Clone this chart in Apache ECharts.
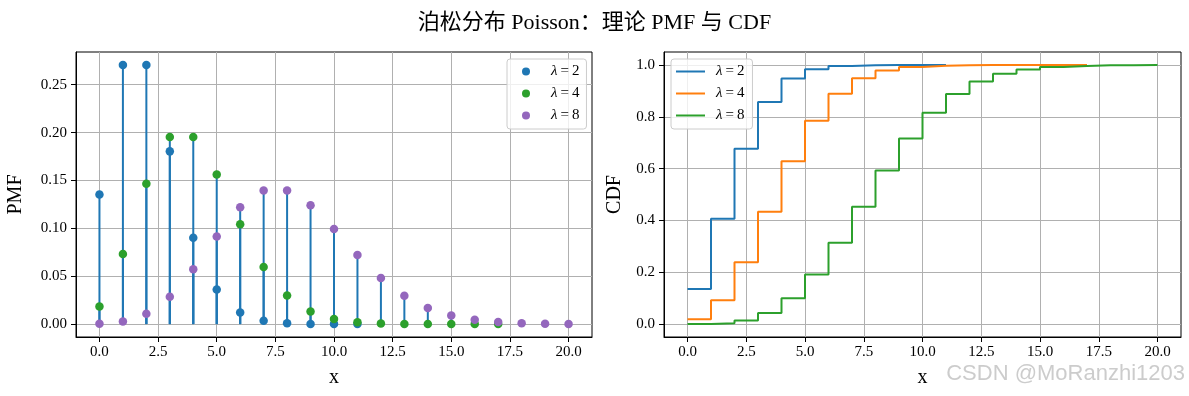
<!DOCTYPE html>
<html>
<head>
<meta charset="utf-8">
<script src="https://cdn.jsdelivr.net/npm/echarts@6/dist/echarts.min.js"></script>
<style>
  html, body { margin: 0; padding: 0; background: #fff; }
  #chart { width: 1189px; height: 396px; }
</style>
</head>
<body>
<div id="chart"></div>
<script>
// x ticks shared by both panels
const xTicks = [0, 2.5, 5, 7.5, 10, 12.5, 15, 17.5, 20];
const pmfTicks = [0, 0.05, 0.1, 0.15, 0.2, 0.25];
const cdfTicks = [0, 0.2, 0.4, 0.6, 0.8, 1.0];

const pmfNames = ["λ=2", "λ=4", "λ=8"];
const cdfNames = ["cdf λ=2", "cdf λ=4", "cdf λ=8"];

// PMF values (x = 0,1,2,...)
const pmf2 = [0.1353, 0.2707, 0.2707, 0.1804, 0.0902, 0.0361, 0.0120, 0.0034, 0.0009, 0.0002, 0.00004, 0.00001];
const pmf4 = [0.0183, 0.0733, 0.1465, 0.1954, 0.1954, 0.1563, 0.1042, 0.0595, 0.0298, 0.0132, 0.0053, 0.0019,
  0.0006, 0.0002, 0.00005, 0.00001, 0.000003, 0.000001];
const pmf8 = [0.0003, 0.0027, 0.0107, 0.0286, 0.0573, 0.0916, 0.1221, 0.1396, 0.1396, 0.1241, 0.0993, 0.0722,
  0.0481, 0.0296, 0.0169, 0.0090, 0.0045, 0.0021, 0.0009, 0.0004, 0.0002];

// CDF values
const cdf2 = [0.1353, 0.4060, 0.6767, 0.8571, 0.9473, 0.9834, 0.9955, 0.9989, 0.9998, 1.0, 1.0, 1.0];
const cdf4 = [0.0183, 0.0916, 0.2381, 0.4335, 0.6288, 0.7851, 0.8893, 0.9489, 0.9786, 0.9919, 0.9972, 0.9991,
  0.9997, 0.9999, 1.0, 1.0, 1.0, 1.0];
const cdf8 = [0.0003, 0.0030, 0.0138, 0.0424, 0.0996, 0.1912, 0.3134, 0.4530, 0.5925, 0.7166, 0.8159, 0.8881,
  0.9362, 0.9658, 0.9827, 0.9918, 0.9963, 0.9984, 0.9993, 0.9997, 0.9999];

const SERIF = "'Liberation Serif', 'Times New Roman', 'Noto Sans CJK SC', serif";
const stemColor = "#1f77b4";
const pmfColors = ["#1f77b4", "#2ca02c", "#9467bd"];
const cdfColors = ["#1f77b4", "#ff7f0e", "#2ca02c"];

const pts = (arr) => arr.map((v, i) => [i, v]);

const chart = echarts.init(document.getElementById("chart"));

function xAxisOpt(gridIndex) {
  return {
    type: "value",
    gridIndex: gridIndex,
    min: -1,
    max: 21,
    name: "x",
    nameLocation: "middle",
    nameGap: 31,
    nameTextStyle: { fontFamily: SERIF, fontSize: 20, color: "#000" },
    axisLine: { show: true, onZero: false, lineStyle: { color: "#000", width: 1 } },
    axisTick: { show: true, length: 5, customValues: xTicks, lineStyle: { color: "#000" } },
    axisLabel: {
      margin: 8, customValues: xTicks, fontFamily: SERIF, fontSize: 15, color: "#000",
      formatter: (v) => v.toFixed(1),
    },
    splitLine: { show: true, lineStyle: { color: "#b0b0b0", width: 1 } },
  };
}

function yAxisOpt(gridIndex, min, max, ticks, digits, name, gap) {
  return {
    type: "value",
    gridIndex: gridIndex,
    min: min,
    max: max,
    name: name,
    nameLocation: "middle",
    nameGap: gap,
    nameTextStyle: { fontFamily: SERIF, fontSize: 20, color: "#000" },
    axisLine: { show: true, onZero: false, lineStyle: { color: "#000", width: 1 } },
    axisTick: { show: true, length: 5, customValues: ticks, lineStyle: { color: "#000" } },
    axisLabel: {
      margin: 9, customValues: ticks, fontFamily: SERIF, fontSize: 15, color: "#000",
      formatter: (v) => v.toFixed(digits),
    },
    splitLine: { show: true, lineStyle: { color: "#b0b0b0", width: 1 } },
  };
}

const pmfData = [pmf2, pmf4, pmf8];
const cdfData = [cdf2, cdf4, cdf8];

const series = [];
pmfData.forEach((arr, k) => {
  // stems (all drawn in C0, like matplotlib's default linefmt)
  series.push({
    type: "bar",
    xAxisIndex: 0,
    yAxisIndex: 0,
    barWidth: 2,
    barGap: "-100%",
    data: pts(arr),
    itemStyle: { color: stemColor },
    silent: true,
    legendHoverLink: false,
  });
  series.push({
    name: pmfNames[k],
    type: "scatter",
    xAxisIndex: 0,
    yAxisIndex: 0,
    symbol: "circle",
    symbolSize: 8.5,
    data: pts(arr),
    itemStyle: { color: pmfColors[k], opacity: 1 },
  });
});
cdfData.forEach((arr, k) => {
  series.push({
    name: cdfNames[k],
    type: "line",
    xAxisIndex: 1,
    yAxisIndex: 1,
    step: "end",
    showSymbol: false,
    data: pts(arr),
    lineStyle: { color: cdfColors[k], width: 2 },
    itemStyle: { color: cdfColors[k] },
  });
});

const legendText = {
  fontFamily: SERIF,
  fontSize: 15,
  color: "#000",
  lineHeight: 14,
  rich: {
    i: { fontFamily: SERIF, fontStyle: "italic", fontSize: 15, color: "#000" },
  },
};
const legendFormatter = (name) => {
  const v = name.split("=")[1];
  return "{i|λ}\u2009=\u2009" + v;
};
const legendBox = {
  orient: "vertical",
  top: 59,
  itemGap: 7,
  borderColor: "#cccccc",
  borderWidth: 1,
  borderRadius: 3,
  backgroundColor: "rgba(255,255,255,0.8)",
  formatter: legendFormatter,
  selectedMode: false,
};

const option = {
  animation: false,
  backgroundColor: "#fff",
  title: {
    text: "泊松分布 Poisson：理论 PMF 与 CDF",
    left: "center",
    top: 7,
    textStyle: { fontFamily: SERIF, fontSize: 22, fontWeight: "normal", color: "#000" },
  },
  grid: [
    { left: 76, right: 597, top: 52, bottom: 59, show: true, borderColor: "#000", borderWidth: 1 },
    { left: 664, right: 8, top: 52, bottom: 59, show: true, borderColor: "#000", borderWidth: 1 },
  ],
  xAxis: [xAxisOpt(0), xAxisOpt(1)],
  yAxis: [
    yAxisOpt(0, -0.0135, 0.2842, pmfTicks, 2, "PMF", 50),
    yAxisOpt(1, -0.05, 1.05, cdfTicks, 1, "CDF", 39),
  ],
  legend: [
    Object.assign({}, legendBox, {
      data: pmfNames,
      left: 507,
      padding: [5, 7, 6, 15],
      itemWidth: 8,
      itemHeight: 8,
      icon: "circle",
      textStyle: Object.assign({}, legendText, { padding: [0, 0, 0, 16] }),
    }),
    Object.assign({}, legendBox, {
      data: cdfNames,
      left: 671,
      padding: [5, 8, 6, 5],
      itemWidth: 29,
      itemHeight: 2,
      icon: "rect",
      textStyle: Object.assign({}, legendText, { padding: [0, 0, 0, 6] }),
    }),
  ],
  graphic: [
    {
      type: "text",
      right: 4,
      top: 363,
      style: {
        text: "CSDN @MoRanzhi1203",
        font: "22px 'Liberation Sans', Arial, sans-serif",
        fill: "rgba(195,195,195,0.85)",
      },
      z: 100,
    },
  ],
  series: series,
};

chart.setOption(option);
</script>
</body>
</html>
